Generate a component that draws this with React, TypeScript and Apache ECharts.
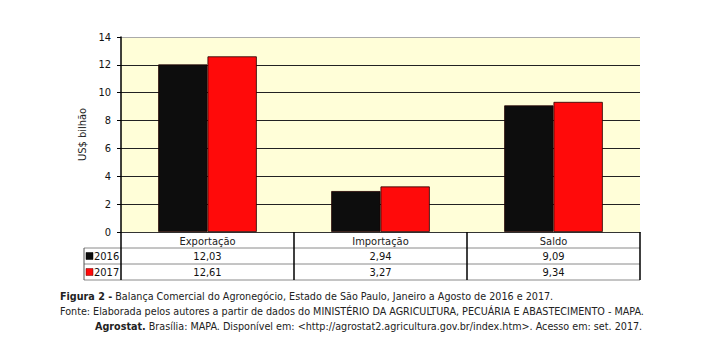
import React, { useEffect, useRef } from "react";
import * as echarts from "echarts";

const categories = ["Exportação", "Importação", "Saldo"];
const seriesNames = ["2016", "2017"];
const values2016 = [12.03, 2.94, 9.09];
const values2017 = [12.61, 3.27, 9.34];
const seriesColors = ["#0d0d0d", "#ff0a0a"];
const yTicks = [0, 2, 4, 6, 8, 10, 12, 14];
const captionTitle = "Figura 2 -";
const captionTitleRest = " Balança Comercial do Agronegócio, Estado de São Paulo, Janeiro a Agosto de 2016 e 2017.";
const sourceLine1 = "Fonte: Elaborada pelos autores a partir de dados do MINISTÉRIO DA AGRICULTURA, PECUÁRIA E ABASTECIMENTO - MAPA.";
const sourceBold = "Agrostat.";
const sourceLine2 = " Brasília: MAPA. Disponível em: <http://agrostat2.agricultura.gov.br/index.htm>. Acesso em: set. 2017.";

const FONT = "'DejaVu Sans Condensed', 'Liberation Sans', sans-serif";
const CAP = "10.7px";

export default function App() {
  const ref = useRef<HTMLDivElement>(null);
  useEffect(() => {
    if (!ref.current) return;
    const chart = echarts.init(ref.current, undefined, { renderer: "svg" });
    const W = 701;
    const gridLeft = 121;
    const gridRight = 61;
    const gridTop = 37;
    const plotBottomY = 232;
    const plotW = W - gridLeft - gridRight;
    const colW = plotW / categories.length;
    const rowH = 16;
    const headerBottom = plotBottomY + rowH;
    const tableLeft = 84;
    const allSeries = [values2016, values2017];

    const fmt = (v: number) => v.toFixed(2).replace(".", ",");

    const graphics: any[] = [];
    for (let r = 0; r < 3; r++) {
      const y = headerBottom + r * rowH;
      graphics.push({
        type: "line",
        shape: { x1: tableLeft, y1: y, x2: gridLeft + plotW, y2: y },
        style: { stroke: "#8a8a8a", lineWidth: 1 },
      });
    }
    graphics.push({
      type: "line",
      shape: { x1: tableLeft, y1: headerBottom, x2: tableLeft, y2: headerBottom + 2 * rowH },
      style: { stroke: "#555", lineWidth: 1 },
    });
    seriesNames.forEach((name, si) => {
      const cy = headerBottom + si * rowH + rowH / 2;
      graphics.push({
        type: "rect",
        shape: { x: tableLeft + 2, y: cy - 3.5, width: 7, height: 7 },
        style: { fill: seriesColors[si], stroke: si === 1 ? "#600" : "#000", lineWidth: 0.5 },
      });
      graphics.push({
        type: "text",
        x: tableLeft + 10,
        y: cy,
        style: { text: name, font: `11px ${FONT}`, fill: "#111", verticalAlign: "middle", align: "left" },
      });
      allSeries[si].forEach((v, ci) => {
        graphics.push({
          type: "text",
          x: gridLeft + colW * (ci + 0.5),
          y: cy,
          style: { text: fmt(v), font: `11px ${FONT}`, fill: "#111", verticalAlign: "middle", align: "center" },
        });
      });
    });
    graphics.push({
      type: "text",
      x: 60,
      y: 296,
      style: {
        text: `{b|${captionTitle}}{n|${captionTitleRest}}`,
        verticalAlign: "middle",
        rich: {
          b: { font: `bold ${CAP} ${FONT}`, fill: "#222" },
          n: { font: `${CAP} ${FONT}`, fill: "#222" },
        },
      },
    });
    graphics.push({
      type: "text",
      x: 60,
      y: 311,
      style: { text: sourceLine1, font: `${CAP} ${FONT}`, fill: "#222", verticalAlign: "middle" },
    });
    graphics.push({
      type: "text",
      x: 95,
      y: 326,
      style: {
        text: `{b|${sourceBold}}{n|${sourceLine2}}`,
        verticalAlign: "middle",
        rich: {
          b: { font: `bold ${CAP} ${FONT}`, fill: "#222" },
          n: { font: `${CAP} ${FONT}`, fill: "#222" },
        },
      },
    });

    chart.setOption({
      animation: false,
      backgroundColor: "#ffffff",
      grid: {
        left: gridLeft,
        right: gridRight,
        top: gridTop,
        bottom: 357 - plotBottomY,
        show: true,
        backgroundColor: "#fffed8",
        borderWidth: 0,
      },
      xAxis: {
        type: "category",
        data: categories,
        axisLine: { show: true, lineStyle: { color: "#333", width: 1 } },
        axisTick: { show: true, length: 48, alignWithLabel: false, lineStyle: { color: "#000", width: 1.5 } },
        axisLabel: { color: "#222", fontSize: 11, fontFamily: FONT, margin: 4 },
      },
      yAxis: {
        type: "value",
        min: 0,
        max: 14,
        interval: 2,
        name: "US$ bilhão",
        nameLocation: "middle",
        nameGap: 29,
        nameRotate: 90,
        nameTextStyle: { color: "#222", fontSize: 11, fontFamily: FONT },
        axisLine: { show: true, lineStyle: { color: "#000", width: 1.5 } },
        axisTick: { show: true, length: 4, lineStyle: { color: "#000" } },
        axisLabel: {
          color: "#111",
          fontSize: 11,
          fontFamily: FONT,
          margin: 10,
          formatter: (v: number) => (yTicks.includes(v) ? String(v) : ""),
        },
        splitLine: {
          show: true,
          lineStyle: { color: ["#222", "#222", "#222", "#222", "#222", "#222", "#222", "#aaa"], width: 1.2 },
        },
      },
      series: seriesNames.map((name, i) => ({
        name,
        type: "bar",
        data: allSeries[i],
        barGap: "0%",
        barCategoryGap: "43%",
        itemStyle: { color: seriesColors[i], borderColor: "#200", borderWidth: 0.8 },
      })),
      graphic: graphics,
    });
    return () => chart.dispose();
  }, []);
  return <div ref={ref} style={{ width: 701, height: 357, margin: -8 }} />;
}
